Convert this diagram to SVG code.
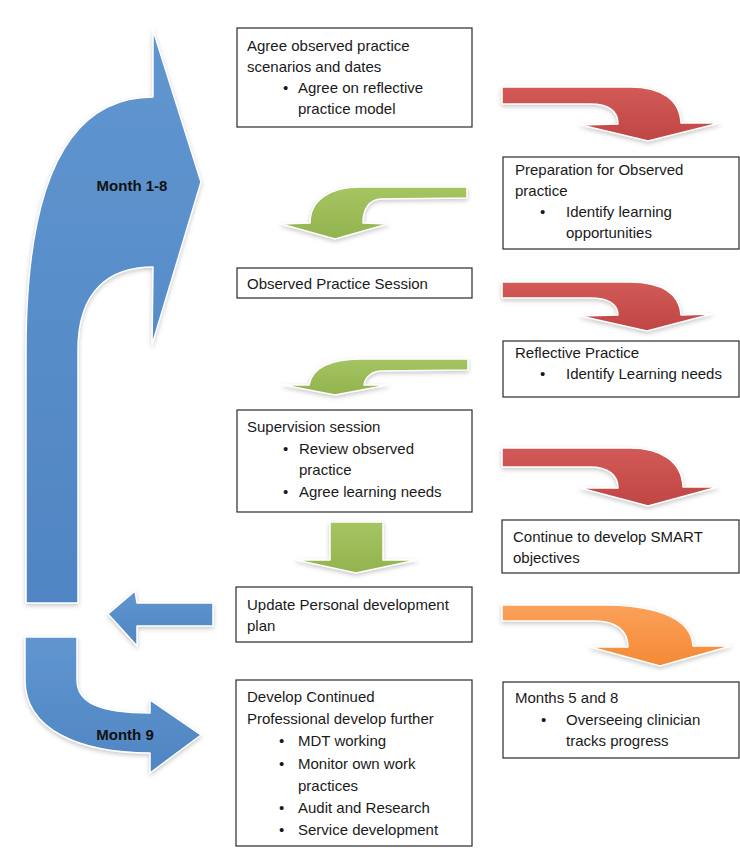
<svg xmlns="http://www.w3.org/2000/svg" width="740" height="848" viewBox="0 0 740 848">
<defs>
<style>
.box{fill:#fff;stroke:#2a2a2a;stroke-width:1.2}
.t{font-family:"Liberation Sans",Arial,sans-serif;font-size:15px;fill:#1a1a1a}
.m{font-family:"Liberation Sans",Arial,sans-serif;font-size:15px;font-weight:bold;fill:#111;text-anchor:middle}
.arr{stroke:#fff;stroke-width:1.5;stroke-linejoin:round;filter:url(#sh)}
.blue{fill:url(#gb)}
.red{fill:url(#gr)}
.green{fill:url(#gg)}
.orange{fill:url(#go)}
</style>
<filter id="sh" x="-20%" y="-20%" width="140%" height="150%">
<feDropShadow dx="0" dy="2" stdDeviation="2" flood-color="#888" flood-opacity="0.45"/>
</filter>
<linearGradient id="gb" x1="0" y1="0" x2="0" y2="1"><stop offset="0" stop-color="#6096d0"/><stop offset="1" stop-color="#4f85c2"/></linearGradient>
<linearGradient id="gr" x1="0" y1="0" x2="0" y2="1"><stop offset="0" stop-color="#d25a57"/><stop offset="1" stop-color="#bf4643"/></linearGradient>
<linearGradient id="gg" x1="0" y1="0" x2="0" y2="1"><stop offset="0" stop-color="#a5c562"/><stop offset="1" stop-color="#93b34f"/></linearGradient>
<linearGradient id="go" x1="0" y1="0" x2="0" y2="1"><stop offset="0" stop-color="#fba15a"/><stop offset="1" stop-color="#f48a35"/></linearGradient>
</defs>
<rect width="740" height="848" fill="#fff"/>

<g id="connectors">
<g id="month1-8">
<path class="arr blue" d="M26,603 L26,350 C26,195 62,97 153,97 L153,30 L201,182 L152,345 L153,267 C110,267 78,290 78,350 L78,603 Z"/>
<text class="m" x="132" y="191">Month 1-8</text>
</g>
<g id="month9">
<path class="arr blue" d="M25,637 L77,637 L77,680 C77,703 100,713 150,713 L150,700 L201,735 L150,773 L150,753 C80,753 25,730 25,680 Z"/>
<text class="m" x="125" y="740">Month 9</text>
</g>
<path class="arr blue" d="M213,603 L213,626 L137,626 L137,646 L108,614 L135,591 L137,603 Z"/>
<path class="arr red" d="M502,87 L630,87 C662,87 680,100 681,123 L720,123 L648,141 L581,125 L618,124 C618,110 608,104 590,104 L502,104 Z"/>
<path class="arr red" d="M502,282 L630,282 C662,282 680,294 681,315 L712,314 L647,331 L580,316 L618,315 C618,304 608,298 590,298 L502,298 Z"/>
<path class="arr red" d="M502,448 L630,448 C662,448 682,462 683,487 L718,487 L648,506 L580,488 L618,488 C618,475 608,467 590,467 L502,467 Z"/>
<path class="arr orange" d="M502,605 L610,605 C660,606 692,620 693,646 L731,646 L660,666 L590,647 L628,647 C628,630 615,621 595,621 L502,621 Z"/>
<path class="arr green" d="M467,187 L467,198 L380,199 C370,200 363,208 363,223 L388,224 L335,239 L281,224 L310,223 C310,200 330,187 360,187 Z"/>
<path class="arr green" d="M468,359 L468,370 L382,371 C372,371 365,377 364,385 L388,385 L335,395 L283,385 L309,385 C312,368 330,359 360,359 Z"/>
<path class="arr green" d="M330,522 L383,522 L383,560 L417,560 L356,573 L296,560 L330,560 Z"/>
</g>

<g id="box1">
<rect class="box" x="237" y="28" width="235" height="99"/>
<text class="t" x="247" y="51">Agree observed practice</text>
<text class="t" x="247" y="72">scenarios and dates</text>
<text class="t" x="283" y="93">•</text>
<text class="t" x="298" y="93">Agree on reflective</text>
<text class="t" x="298" y="114">practice model</text>
</g>

<g id="box2">
<rect class="box" x="503" y="157" width="236" height="92"/>
<text class="t" x="515" y="175">Preparation for Observed</text>
<text class="t" x="515" y="196">practice</text>
<text class="t" x="540" y="217">•</text>
<text class="t" x="566" y="217">Identify learning</text>
<text class="t" x="566" y="238">opportunities</text>
</g>

<g id="box3">
<rect class="box" x="237" y="268" width="235" height="30"/>
<text class="t" x="247" y="289">Observed Practice Session</text>
</g>

<g id="box4">
<rect class="box" x="503" y="341" width="236" height="56"/>
<text class="t" x="515" y="358">Reflective Practice</text>
<text class="t" x="540" y="379">•</text>
<text class="t" x="566" y="379">Identify Learning needs</text>
</g>

<g id="box5">
<rect class="box" x="237" y="410" width="235" height="102"/>
<text class="t" x="247" y="432">Supervision session</text>
<text class="t" x="283" y="454">•</text>
<text class="t" x="299" y="454">Review observed</text>
<text class="t" x="299" y="475">practice</text>
<text class="t" x="283" y="497">•</text>
<text class="t" x="299" y="497">Agree learning needs</text>
</g>

<g id="box6">
<rect class="box" x="502" y="520" width="237" height="53"/>
<text class="t" x="513" y="542">Continue to develop SMART</text>
<text class="t" x="513" y="563">objectives</text>
</g>

<g id="box7">
<rect class="box" x="236" y="587" width="236" height="55"/>
<text class="t" x="247" y="610">Update Personal development</text>
<text class="t" x="247" y="631">plan</text>
</g>

<g id="box8">
<rect class="box" x="236" y="680" width="236" height="166"/>
<text class="t" x="247" y="702">Develop Continued</text>
<text class="t" x="247" y="724">Professional develop further</text>
<text class="t" x="279" y="746">•</text>
<text class="t" x="298" y="746">MDT working</text>
<text class="t" x="279" y="769">•</text>
<text class="t" x="298" y="769">Monitor own work</text>
<text class="t" x="298" y="791">practices</text>
<text class="t" x="279" y="813">•</text>
<text class="t" x="298" y="813">Audit and Research</text>
<text class="t" x="279" y="835">•</text>
<text class="t" x="298" y="835">Service development</text>
</g>

<g id="box9">
<rect class="box" x="503" y="682" width="236" height="76"/>
<text class="t" x="515" y="703">Months 5 and 8</text>
<text class="t" x="541" y="725">•</text>
<text class="t" x="566" y="725">Overseeing clinician</text>
<text class="t" x="566" y="746">tracks progress</text>
</g>
</svg>
